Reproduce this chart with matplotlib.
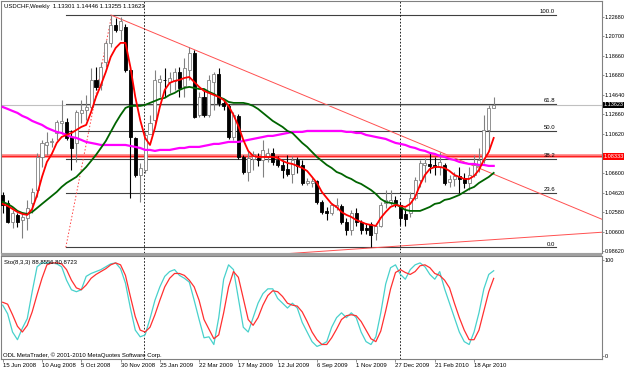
import numpy as np
import matplotlib
matplotlib.use('Agg')
import matplotlib.pyplot as plt
import matplotlib.transforms as mtransforms
from matplotlib.patches import Rectangle

plt.rcParams['font.family'] = ['Liberation Sans', 'DejaVu Sans']

# USDCHF weekly, 15 Jun 2008 .. 16 May 2010
opens = [1.0438, 1.0356, 1.0161, 1.0233, 1.0181, 1.0202, 1.0356, 1.0489, 1.0828, 1.0951,
         1.0982, 1.1074, 1.1177, 1.1187, 1.1033, 1.0972, 1.1280, 1.1311, 1.1341, 1.1619,
         1.1567, 1.1803, 1.1999, 1.2183, 1.2132, 1.2163, 1.1721, 1.1023, 1.0643, 1.0694,
         1.1060, 1.1208, 1.1598, 1.1619, 1.1598, 1.1608, 1.1701, 1.1557, 1.1721, 1.1896,
         1.1259, 1.1444, 1.1259, 1.1598, 1.1680, 1.1382, 1.1352, 1.1033, 1.1249, 1.0828,
         1.0674, 1.0808, 1.0818, 1.0797, 1.0828, 1.0869, 1.0797, 1.0746, 1.0705, 1.0654,
         1.0797, 1.0746, 1.0561, 1.0561, 1.0582, 1.0366, 1.0274, 1.0253, 1.0315, 1.0325,
         1.0161, 1.0079, 1.0253, 1.0161, 1.0099, 1.0140, 1.0048, 1.0120, 1.0356, 1.0366,
         1.0387, 1.0335, 1.0243, 1.0253, 1.0407, 1.0592, 1.0746, 1.0756, 1.0746, 1.0725,
         1.0746, 1.0571, 1.0602, 1.0633, 1.0612, 1.0561, 1.0643, 1.0736, 1.0797, 1.1105,
         1.13301]
highs = [1.0469, 1.0387, 1.0284, 1.0253, 1.0253, 1.0387, 1.0510, 1.0869, 1.1003, 1.1085,
         1.1023, 1.1208, 1.1413, 1.1228, 1.1105, 1.1311, 1.1413, 1.1465, 1.1742, 1.1752,
         1.1803, 1.2029, 1.2286, 1.2255, 1.2265, 1.2194, 1.1752, 1.1033, 1.0766, 1.1085,
         1.1259, 1.1721, 1.1670, 1.1742, 1.1701, 1.1742, 1.1752, 1.1845, 1.1957, 1.1927,
         1.1495, 1.1516, 1.1670, 1.1701, 1.1742, 1.1413, 1.1372, 1.1290, 1.1270, 1.0849,
         1.0899, 1.0890, 1.0869, 1.1003, 1.0920, 1.0920, 1.0838, 1.0797, 1.0849, 1.0838,
         1.0828, 1.0797, 1.0612, 1.0612, 1.0592, 1.0387, 1.0315, 1.0356, 1.0407, 1.0346,
         1.0202, 1.0284, 1.0304, 1.0181, 1.0150, 1.0161, 1.0150, 1.0366, 1.0489, 1.0489,
         1.0428, 1.0366, 1.0304, 1.0469, 1.0623, 1.0797, 1.0818, 1.0879, 1.0828, 1.0879,
         1.0766, 1.0643, 1.0674, 1.0725, 1.0664, 1.0725, 1.0849, 1.0920, 1.1259, 1.1362,
         1.14446]
lows = [1.0253, 1.0150, 1.0099, 1.0109, 0.9996, 1.0079, 1.0253, 1.0417, 1.0725, 1.0849,
        1.0931, 1.1003, 1.1064, 1.1003, 1.0695, 1.0777, 1.1177, 1.1208, 1.1311, 1.1516,
        1.1516, 1.1752, 1.1957, 1.2111, 1.2029, 1.1701, 1.0407, 1.0623, 1.0366, 1.0664,
        1.1105, 1.1177, 1.1444, 1.1444, 1.1485, 1.1516, 1.1444, 1.1444, 1.1619, 1.1228,
        1.1239, 1.1239, 1.1239, 1.1311, 1.1352, 1.1311, 1.1013, 1.1003, 1.0808, 1.0654,
        1.0582, 1.0695, 1.0736, 1.0623, 1.0777, 1.0746, 1.0725, 1.0612, 1.0633, 1.0561,
        1.0664, 1.0541, 1.0541, 1.0520, 1.0346, 1.0243, 1.0181, 1.0233, 1.0284, 1.0140,
        1.0027, 1.0027, 1.0120, 1.0038, 1.0038, 0.9904, 0.9975, 1.0109, 1.0304, 1.0335,
        1.0315, 1.0130, 1.0120, 1.0212, 1.0387, 1.0520, 1.0571, 1.0664, 1.0643, 1.0643,
        1.0541, 1.0520, 1.0530, 1.0458, 1.0510, 1.0489, 1.0623, 1.0674, 1.0766, 1.0920,
        1.13255]
closes = [1.0335, 1.0161, 1.0253, 1.0161, 1.0212, 1.0304, 1.0469, 1.0828, 1.0972, 1.0982,
          1.0987, 1.1187, 1.1198, 1.1023, 1.0920, 1.1290, 1.1311, 1.1341, 1.1619, 1.1547,
          1.1752, 1.1999, 1.2183, 1.2132, 1.2224, 1.1721, 1.1033, 1.0643, 1.0715, 1.1054,
          1.1177, 1.1619, 1.1629, 1.1614, 1.1639, 1.1701, 1.1537, 1.1742, 1.1896, 1.1239,
          1.1444, 1.1259, 1.1619, 1.1680, 1.1382, 1.1352, 1.1033, 1.1259, 1.0828, 1.0674,
          1.0818, 1.0859, 1.0797, 1.0899, 1.0869, 1.0777, 1.0746, 1.0694, 1.0654, 1.0797,
          1.0736, 1.0561, 1.0582, 1.0582, 1.0366, 1.0263, 1.0253, 1.0335, 1.0335, 1.0161,
          1.0079, 1.0253, 1.0161, 1.0079, 1.0079, 1.0027, 1.0120, 1.0335, 1.0387, 1.0387,
          1.0356, 1.0202, 1.0192, 1.0407, 1.0592, 1.0766, 1.0766, 1.0736, 1.0725, 1.0777,
          1.0561, 1.0602, 1.0633, 1.0602, 1.0561, 1.0643, 1.0746, 1.0797, 1.1105, 1.1331,
          1.13623]

ma_fast = [1.0346, 1.0325, 1.0294, 1.0263, 1.0243, 1.0233, 1.0294, 1.0438, 1.0623, 1.0777,
           1.0859, 1.0972, 1.1033, 1.1054, 1.1074, 1.1105, 1.1136, 1.1157, 1.1290, 1.1444,
           1.1567, 1.1701, 1.1855, 1.1947, 1.1999, 1.1999, 1.1752, 1.1444, 1.1208, 1.1023,
           1.0951, 1.1126, 1.1341, 1.1516, 1.1588, 1.1608, 1.1619, 1.1639, 1.1649, 1.1598,
           1.1547, 1.1506, 1.1485, 1.1465, 1.1444, 1.1413, 1.1352, 1.1259, 1.1146, 1.1003,
           1.0890, 1.0838, 1.0828, 1.0828, 1.0828, 1.0828, 1.0818, 1.0787, 1.0766, 1.0756,
           1.0736, 1.0715, 1.0684, 1.0623, 1.0561, 1.0469, 1.0407, 1.0346, 1.0315, 1.0263,
           1.0233, 1.0212, 1.0181, 1.0161, 1.0140, 1.0130, 1.0120, 1.0202, 1.0263, 1.0315,
           1.0335, 1.0325, 1.0315, 1.0346, 1.0417, 1.0541, 1.0643, 1.0705, 1.0725, 1.0725,
           1.0715, 1.0684, 1.0643, 1.0623, 1.0602, 1.0602, 1.0633, 1.0695, 1.0797, 1.0879,
           1.1023]
ma_mid = [1.0366, 1.0346, 1.0315, 1.0274, 1.0253, 1.0243, 1.0263, 1.0304, 1.0346, 1.0387,
          1.0428, 1.0469, 1.0520, 1.0561, 1.0592, 1.0623, 1.0674, 1.0725, 1.0787, 1.0849,
          1.0920, 1.0992, 1.1085, 1.1177, 1.1259, 1.1331, 1.1352, 1.1352, 1.1352, 1.1362,
          1.1383, 1.1403, 1.1424, 1.1434, 1.1465, 1.1485, 1.1516, 1.1537, 1.1547, 1.1537,
          1.1526, 1.1526, 1.1496, 1.1475, 1.1444, 1.1424, 1.1393, 1.1383, 1.1383, 1.1383,
          1.1372, 1.1352, 1.1321, 1.1280, 1.1239, 1.1198, 1.1167, 1.1136, 1.1095, 1.1074,
          1.1023, 1.0972, 1.0931, 1.0879, 1.0828, 1.0787, 1.0746, 1.0715, 1.0674, 1.0654,
          1.0623, 1.0602, 1.0571, 1.0551, 1.0520, 1.0489, 1.0448, 1.0397, 1.0366, 1.0356,
          1.0346, 1.0315, 1.0284, 1.0274, 1.0274, 1.0274, 1.0294, 1.0315, 1.0346, 1.0356,
          1.0387, 1.0397, 1.0417, 1.0438, 1.0469, 1.0500, 1.0520, 1.0561, 1.0592, 1.0623,
          1.0664]
ma_slow = [1.1341, 1.1321, 1.1300, 1.1280, 1.1249, 1.1228, 1.1198, 1.1177, 1.1157, 1.1126,
           1.1105, 1.1085, 1.1074, 1.1054, 1.1033, 1.1023, 1.1003, 1.0982, 1.0972, 1.0962,
           1.0951, 1.0951, 1.0951, 1.0951, 1.0951, 1.0951, 1.0941, 1.0931, 1.0920, 1.0900,
           1.0900, 1.0890, 1.0900, 1.0900, 1.0900, 1.0910, 1.0920, 1.0920, 1.0931, 1.0931,
           1.0931, 1.0941, 1.0951, 1.0962, 1.0962, 1.0972, 1.0982, 1.0982, 1.0982, 1.0992,
           1.1003, 1.1013, 1.1023, 1.1033, 1.1044, 1.1044, 1.1054, 1.1064, 1.1074, 1.1085,
           1.1085, 1.1085, 1.1095, 1.1095, 1.1095, 1.1095, 1.1095, 1.1095, 1.1095, 1.1095,
           1.1085, 1.1085, 1.1074, 1.1074, 1.1054, 1.1044, 1.1033, 1.1023, 1.1013, 1.0992,
           1.0972, 1.0962, 1.0951, 1.0931, 1.0920, 1.0900, 1.0890, 1.0869, 1.0859, 1.0838,
           1.0828, 1.0808, 1.0797, 1.0777, 1.0766, 1.0756, 1.0756, 1.0746, 1.0746, 1.0736,
           1.0736]

# Stochastic(8,3,3)
sto_main = [53, 44, 25, 17, 29, 39, 67, 93, 97, 97,
            97, 96, 93, 79, 69, 67, 69, 83, 86, 88,
            90, 93, 96, 97, 91, 76, 50, 27, 20, 22,
            39, 58, 72, 83, 88, 90, 84, 81, 77, 58,
            38, 19, 20, 12, 40, 80, 95, 90, 60, 30,
            25, 40, 55, 65, 70, 70, 60, 55, 50, 55,
            50, 35, 25, 15, 10, 12, 15, 30, 40, 45,
            40, 45, 40, 25, 15, 12, 20, 45, 75, 92,
            95, 85, 80, 90, 95, 97, 93, 85, 80, 88,
            70, 55, 40, 25, 15, 12, 25, 45, 70, 85,
            88.86]
sto_signal = [56, 54, 43, 31, 25, 32, 46, 64, 81, 95,
              97, 97, 96, 90, 79, 71, 69, 74, 81, 85,
              88, 91, 95, 97, 95, 84, 62, 41, 27, 25,
              30, 43, 58, 72, 81, 86, 86, 84, 79, 72,
              58, 38, 28, 18, 22, 45, 72, 88, 82, 60,
              38, 32, 40, 53, 63, 68, 67, 62, 55, 53,
              52, 46, 36, 25, 17, 12, 12, 19, 28, 38,
              42, 43, 42, 36, 27, 18, 15, 26, 47, 70,
              87, 90, 87, 85, 88, 94, 95, 92, 86, 84,
              79, 71, 55, 40, 27, 17, 17, 27, 47, 67,
              80.87]

date_pos = [0, 8, 16, 24, 32, 40, 48, 56, 64, 72, 80, 88, 96]
date_labels = ['15 Jun 2008', '10 Aug 2008', '5 Oct 2008', '30 Nov 2008', '25 Jan 2009',
               '22 Mar 2009', '17 May 2009', '12 Jul 2009', '6 Sep 2009', '1 Nov 2009',
               '27 Dec 2009', '21 Feb 2010', '18 Apr 2010']
price_ticks = [1.22680, 1.20700, 1.18660, 1.16680, 1.14640, 1.12660, 1.10620,
               1.06600, 1.04620, 1.02580, 1.00600, 0.98620]

fib_levels = [0.0, 23.6, 38.2, 50.0, 61.8, 100.0]
fib_low, fib_high = 0.9900, 1.2285
fib_t0, fib_t1 = 12.85, 22.2        # anchor bars of the retracement
fib_right = 112.7
trend_lines = [[(22.05, 1.2285), (80.9, 1.1051)],
               [(50.0, 0.9808), (122.0, 1.0055)]]
separators = [28.8, 80.9]
hline_red = 1.08333
bid = 1.13623

W, H = 625, 370
fig = plt.figure(figsize=(W / 100, H / 100), dpi=100)
fig.patch.set_facecolor('white')


def px_axes(x0, y0, x1, y1):
    return fig.add_axes([x0 / W, 1 - y1 / H, (x1 - x0) / W, (y1 - y0) / H])


ax = px_axes(1, 1, 602, 253)
ax2 = px_axes(1, 256, 602, 359)
XMIN, XMAX = -0.35, 122.06
FS = 4.3
FSR = 3.95
GRAY = '#808080'

for a in (ax, ax2):
    a.set_xlim(XMIN, XMAX)
    for s in a.spines.values():
        s.set_color(GRAY)
        s.set_linewidth(0.8)
    a.yaxis.tick_right()
    a.tick_params(axis='y', labelsize=FSR, length=1.5, width=0.6, pad=0.6, color=GRAY)

ax.set_ylim(0.98419, 1.2429)
ax.set_xticks([])
ax.set_yticks(price_ticks)
ax.set_yticklabels(['%.5f' % p for p in price_ticks])

# candles
x = np.arange(len(opens))
o, h, l, c = map(np.array, (opens, highs, lows, closes))
up = c >= o
ax.vlines(x[up], l[up], h[up], color=GRAY, lw=0.8, zorder=2)
ax.vlines(x[~up], l[~up], h[~up], color='black', lw=0.8, zorder=2)
lo = np.minimum(o, c)
hgt = np.maximum(np.abs(c - o), 0.0006)
ax.bar(x[up], hgt[up], 0.62, bottom=lo[up], facecolor='white', edgecolor=GRAY, lw=0.6, zorder=3)
ax.bar(x[~up], hgt[~up], 0.62, bottom=lo[~up], facecolor='black', edgecolor='black', lw=0.6, zorder=3)

# moving averages
ax.plot(x, ma_slow, color='#ff00ff', lw=1.6, zorder=4)
ax.plot(x, ma_mid, color='#006400', lw=1.3, zorder=4)
ax.plot(x, ma_fast, color='#ff0000', lw=1.3, zorder=5)

# fibonacci retracement
for lev in fib_levels:
    p = fib_low + (fib_high - fib_low) * lev / 100.0
    ax.plot([fib_t0, fib_right], [p, p], color='#404040', lw=0.8, zorder=1)
    ax.text(fib_right - 0.2, p + 0.0008, '%.1f' % lev, ha='right', va='bottom', fontsize=FS, zorder=6)
ax.plot([fib_t0, fib_t1], [fib_low, fib_high], color='#ff4040', lw=0.7, ls=(0, (1.5, 2)), zorder=1)

# trend lines, drawn as rays to the right edge
for (t0, p0), (t1, p1) in trend_lines:
    k = (p1 - p0) / (t1 - t0)
    ax.plot([t0, XMAX], [p0, p0 + k * (XMAX - t0)], color='#ff5050', lw=0.7, zorder=1)

ax.axhline(bid, color='#c0c0c0', lw=0.8, zorder=1)
ax.axhline(hline_red, color='#ff8080', lw=2.6, zorder=1)
ax.axhline(hline_red, color='#ff2020', lw=0.8, zorder=1)

for s in separators:
    for a in (ax, ax2):
        a.axvline(s, color='black', lw=0.6, ls=(0, (2, 2)), zorder=1)

blend = mtransforms.blended_transform_factory(ax.transAxes, ax.transData)
ax.text(1.002, bid, '%.5f' % bid, transform=blend, ha='left', va='center', fontsize=FSR, color='white',
        bbox=dict(boxstyle='square,pad=0.12', fc='black', ec='none'), clip_on=False, zorder=10)
ax.text(1.002, hline_red, '%.5f' % hline_red, transform=blend, ha='left', va='center', fontsize=FSR,
        color='white', bbox=dict(boxstyle='square,pad=0.12', fc='#ff0000', ec='none'), clip_on=False, zorder=10)

ax.text(0.005, 0.98, 'USDCHF,Weekly  %.5f %.5f %.5f %.5f' % (opens[-1], highs[-1], lows[-1], closes[-1]),
        transform=ax.transAxes, ha='left', va='center', fontsize=FS)

# stochastic panel
ax2.plot(x, sto_main, color='#48d1cc', lw=0.9, zorder=3)
ax2.plot(x, sto_signal, color='#ff3030', lw=0.9, zorder=3)
ax2.set_ylim(-3.1, 104.2)
ax2.set_yticks([0, 100])
ax2.set_yticklabels(['0', '100'])
ax2.set_xticks(date_pos)
ax2.set_xticklabels(date_labels, ha='left')
ax2.tick_params(axis='x', labelsize=FS, length=2, width=0.6, pad=1, color=GRAY)
ax2.text(0.005, 0.94, 'Sto(8,3,3) %.4f %.4f' % (88.8556, 80.8723), transform=ax2.transAxes,
         ha='left', va='center', fontsize=FS)
ax2.text(0.004, 0.04, 'ODL MetaTrader, \u00a9 2001-2010 MetaQuotes Software Corp.', transform=ax2.transAxes,
         ha='left', va='center', fontsize=FS)

fig.patches.append(Rectangle((1 / W, 1 - 256 / H), 601 / W, 3 / H, transform=fig.transFigure,
                             facecolor='#a0a0a0', edgecolor='none'))

fig.savefig('out.png', dpi=100)
